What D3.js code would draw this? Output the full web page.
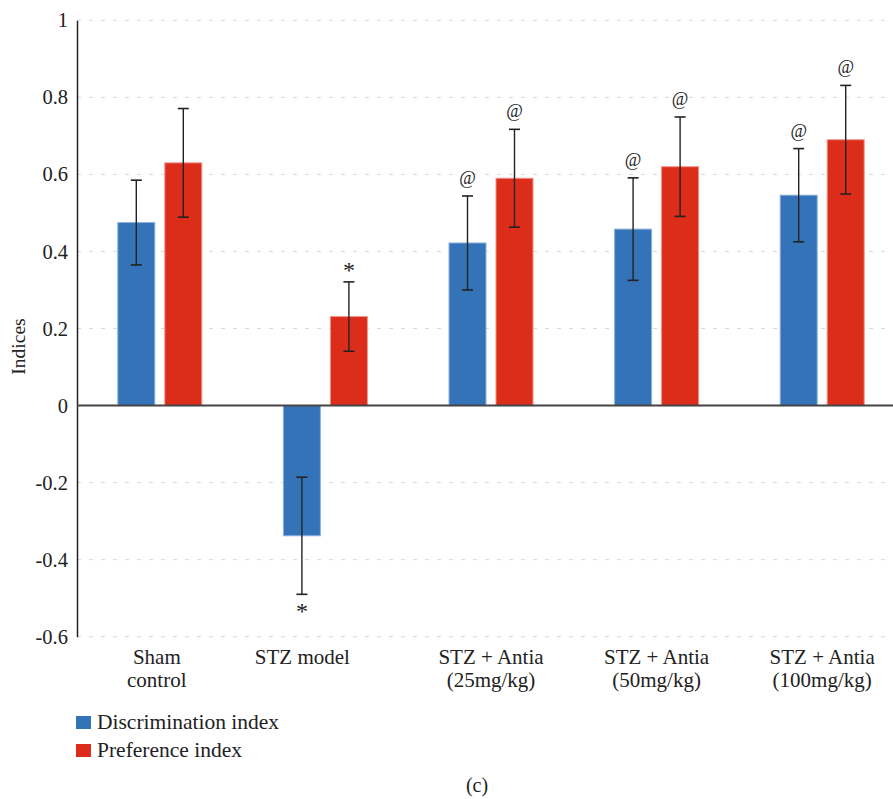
<!DOCTYPE html>
<html>
<head>
<meta charset="utf-8">
<script src="https://cdn.jsdelivr.net/npm/d3@7"></script>
<style>
  html, body { margin: 0; padding: 0; background: #fff; }
  svg { display: block; }
</style>
</head>
<body>
<svg id="chart" width="893" height="799" font-family="'Liberation Serif', 'Times New Roman', Tinos, 'DejaVu Serif', serif"></svg>
<script>
// ---- data ----
const categories = ["Sham control", "STZ model", "STZ + Antia (25mg/kg)", "STZ + Antia (50mg/kg)", "STZ + Antia (100mg/kg)"];
const categoryLines = [["Sham", "control"], ["STZ model"], ["STZ + Antia", "(25mg/kg)"], ["STZ + Antia", "(50mg/kg)"], ["STZ + Antia", "(100mg/kg)"]];
const seriesNames = ["Discrimination index", "Preference index"];
const discriminationIndex = [0.475, -0.338, 0.422, 0.458, 0.546];
const discriminationError = [0.11, 0.152, 0.122, 0.133, 0.121];
const preferenceIndex = [0.63, 0.231, 0.59, 0.62, 0.69];
const preferenceError = [0.141, 0.09, 0.127, 0.129, 0.141];
const discriminationMarks = ["", "*", "@", "@", "@"];
const preferenceMarks = ["", "*", "@", "@", "@"];
const yTicks = [-0.6, -0.4, -0.2, 0, 0.2, 0.4, 0.6, 0.8, 1];
const yTickLabels = ["-0.6", "-0.4", "-0.2", "0", "0.2", "0.4", "0.6", "0.8", "1"];
const colors = ["#3573b8", "#dc2d1b"];
const strokeColors = ["#8db0dc", "#f0938a"];

// ---- layout ----
const FONT = "'Liberation Serif', 'Times New Roman', Tinos, 'DejaVu Serif', serif";
const svg = d3.select("#chart");
const axisX = 77, plotRight = 893;
const y = d3.scaleLinear().domain([-0.6, 1]).range([636.7, 20.3]);
const x0 = d3.scaleBand().domain(categories).range([77, 905]).padding(0);
const x1 = d3.scaleBand().domain(seriesNames).range([40.8, 124.8]).paddingInner(0.2128);

// gridlines
svg.append("g").selectAll("line")
  .data(yTicks.filter(t => t !== 0))
  .join("line")
  .attr("x1", axisX).attr("x2", plotRight)
  .attr("y1", d => y(d)).attr("y2", d => y(d))
  .attr("stroke", "#d9d9d9").attr("stroke-width", 1)
  .attr("stroke-dasharray", "4,8");

// y axis via d3.axisLeft
const yAxis = d3.axisLeft(y).tickValues(yTicks)
  .tickFormat((d, i) => yTickLabels[i]).tickSize(0).tickPadding(9);
const yAxisG = svg.append("g").attr("transform", `translate(${axisX},0)`).call(yAxis);
yAxisG.attr("font-family", FONT).attr("font-size", 20.5);
yAxisG.select(".domain").attr("stroke", "#222").attr("stroke-width", 1.5);
yAxisG.selectAll("text").attr("fill", "#222");

// y label
svg.append("text")
  .attr("transform", `translate(25,${y(0.2) + 18}) rotate(-90)`)
  .attr("text-anchor", "middle").attr("font-size", 19.5).attr("fill", "#222")
  .text("Indices");

// bars
const series = [
  { name: seriesNames[0], values: discriminationIndex, errors: discriminationError, marks: discriminationMarks },
  { name: seriesNames[1], values: preferenceIndex, errors: preferenceError, marks: preferenceMarks }
];
series.forEach((s, si) => {
  const g = svg.append("g");
  const data = categories.map((c, i) => ({ c, v: s.values[i], e: s.errors[i], m: s.marks[i] }));
  g.selectAll("rect").data(data).join("rect")
    .attr("x", d => x0(d.c) + x1(s.name))
    .attr("width", x1.bandwidth())
    .attr("y", d => y(Math.max(0, d.v)))
    .attr("height", d => Math.abs(y(d.v) - y(0)))
    .attr("fill", colors[si])
    .attr("stroke", strokeColors[si]).attr("stroke-width", 1);
  const cx = d => x0(d.c) + x1(s.name) + x1.bandwidth() / 2;
  g.selectAll("line.err").data(data).join("line").attr("class", "err")
    .attr("x1", cx).attr("x2", cx)
    .attr("y1", d => y(d.v + d.e)).attr("y2", d => y(d.v - d.e))
    .attr("stroke", "#222").attr("stroke-width", 1.4);
  ["top", "bot"].forEach(k => {
    g.selectAll("line.cap" + k).data(data).join("line").attr("class", "cap" + k)
      .attr("x1", d => cx(d) - 5.5).attr("x2", d => cx(d) + 5.5)
      .attr("y1", d => y(k === "top" ? d.v + d.e : d.v - d.e))
      .attr("y2", d => y(k === "top" ? d.v + d.e : d.v - d.e))
      .attr("stroke", "#222").attr("stroke-width", 1.6);
  });
  g.selectAll("text.mark").data(data.filter(d => d.m)).join("text").attr("class", "mark")
    .attr("x", cx)
    .attr("y", d => d.v >= 0 ? y(d.v + d.e) - (d.m === "@" ? 12 : 4) : y(d.v - d.e) + 25)
    .attr("text-anchor", "middle")
    .attr("font-size", d => d.m === "@" ? 18 : 24)
    .attr("fill", "#222")
    .text(d => d.m);
});

// zero line
svg.append("line")
  .attr("x1", axisX).attr("x2", plotRight)
  .attr("y1", y(0)).attr("y2", y(0))
  .attr("stroke", "#444").attr("stroke-width", 2);

// category labels
const labelShift = { "Sham control": -3, "STZ model": -23 };
categories.forEach((c, i) => {
  const cxl = x0(c) + x0.bandwidth() / 2 + (labelShift[c] || 0);
  const t = svg.append("text").attr("text-anchor", "middle").attr("font-size", 21).attr("fill", "#222");
  categoryLines[i].forEach((ln, li) => {
    t.append("tspan").attr("x", cxl).attr("y", 663.5 + li * 23.5).text(ln);
  });
});

// legend
seriesNames.forEach((n, i) => {
  const ly = 716 + i * 28;
  svg.append("rect").attr("x", 76).attr("y", ly).attr("width", 15).attr("height", 13)
    .attr("fill", colors[i]);
  svg.append("text").attr("x", 97).attr("y", ly + 12.5).attr("font-size", 21.5).attr("fill", "#222").text(n);
});

// panel label
svg.append("text").attr("x", 477).attr("y", 792).attr("text-anchor", "middle")
  .attr("font-size", 20).attr("fill", "#222").text("(c)");
</script>
</body>
</html>
